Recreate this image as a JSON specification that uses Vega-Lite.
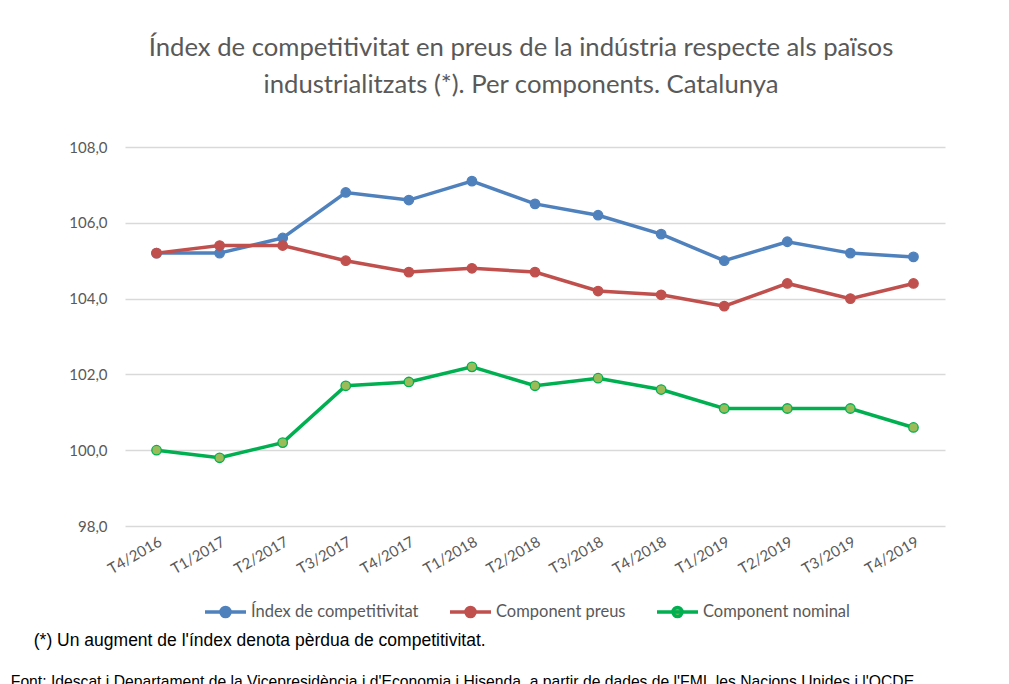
{
  "$schema": "https://vega.github.io/schema/vega-lite/v6.json",
  "background": "white",
  "padding": {"left": 10, "top": 35, "right": 10, "bottom": 0},
  "title": {
    "text": "Font: Idescat i Departament de la Vicepresidència i d'Economia i Hisenda, a partir de dades de l'FMI, les Nacions Unides i l'OCDE.",
    "orient": "bottom",
    "anchor": "start",
    "frame": "bounds",
    "dx": -23,
    "offset": 26,
    "font": "Liberation Sans",
    "fontSize": 15.7,
    "fontWeight": "normal",
    "color": "black"
  },
  "vconcat": [
    {
      "title": {
        "text": "(*) Un augment de l'índex denota pèrdua de competitivitat.",
        "orient": "bottom",
        "anchor": "start",
        "frame": "bounds",
        "dx": -35,
        "offset": 55,
        "font": "Liberation Sans",
        "fontSize": 17.5,
        "fontWeight": "normal",
        "color": "black"
      },
      "vconcat": [
        {
          "width": 820,
          "height": 379,
          "title": {
            "text": ["Índex de competitivitat en preus de la indústria respecte als països", "industrialitzats (*). Per components. Catalunya"],
            "font": "Lato",
            "fontSize": 25.7,
            "fontWeight": "normal",
            "color": "#595959",
            "lineHeight": 37,
            "offset": 41,
            "anchor": "middle",
            "dx": -14
          },
          "data": {
            "values": [
              {"trimestre": "T4/2016", "serie": "Índex de competitivitat", "valor": 105.2},
              {"trimestre": "T1/2017", "serie": "Índex de competitivitat", "valor": 105.2},
              {"trimestre": "T2/2017", "serie": "Índex de competitivitat", "valor": 105.6},
              {"trimestre": "T3/2017", "serie": "Índex de competitivitat", "valor": 106.8},
              {"trimestre": "T4/2017", "serie": "Índex de competitivitat", "valor": 106.6},
              {"trimestre": "T1/2018", "serie": "Índex de competitivitat", "valor": 107.1},
              {"trimestre": "T2/2018", "serie": "Índex de competitivitat", "valor": 106.5},
              {"trimestre": "T3/2018", "serie": "Índex de competitivitat", "valor": 106.2},
              {"trimestre": "T4/2018", "serie": "Índex de competitivitat", "valor": 105.7},
              {"trimestre": "T1/2019", "serie": "Índex de competitivitat", "valor": 105.0},
              {"trimestre": "T2/2019", "serie": "Índex de competitivitat", "valor": 105.5},
              {"trimestre": "T3/2019", "serie": "Índex de competitivitat", "valor": 105.2},
              {"trimestre": "T4/2019", "serie": "Índex de competitivitat", "valor": 105.1},
              {"trimestre": "T4/2016", "serie": "Component preus", "valor": 105.2},
              {"trimestre": "T1/2017", "serie": "Component preus", "valor": 105.4},
              {"trimestre": "T2/2017", "serie": "Component preus", "valor": 105.4},
              {"trimestre": "T3/2017", "serie": "Component preus", "valor": 105.0},
              {"trimestre": "T4/2017", "serie": "Component preus", "valor": 104.7},
              {"trimestre": "T1/2018", "serie": "Component preus", "valor": 104.8},
              {"trimestre": "T2/2018", "serie": "Component preus", "valor": 104.7},
              {"trimestre": "T3/2018", "serie": "Component preus", "valor": 104.2},
              {"trimestre": "T4/2018", "serie": "Component preus", "valor": 104.1},
              {"trimestre": "T1/2019", "serie": "Component preus", "valor": 103.8},
              {"trimestre": "T2/2019", "serie": "Component preus", "valor": 104.4},
              {"trimestre": "T3/2019", "serie": "Component preus", "valor": 104.0},
              {"trimestre": "T4/2019", "serie": "Component preus", "valor": 104.4},
              {"trimestre": "T4/2016", "serie": "Component nominal", "valor": 100.0},
              {"trimestre": "T1/2017", "serie": "Component nominal", "valor": 99.8},
              {"trimestre": "T2/2017", "serie": "Component nominal", "valor": 100.2},
              {"trimestre": "T3/2017", "serie": "Component nominal", "valor": 101.7},
              {"trimestre": "T4/2017", "serie": "Component nominal", "valor": 101.8},
              {"trimestre": "T1/2018", "serie": "Component nominal", "valor": 102.2},
              {"trimestre": "T2/2018", "serie": "Component nominal", "valor": 101.7},
              {"trimestre": "T3/2018", "serie": "Component nominal", "valor": 101.9},
              {"trimestre": "T4/2018", "serie": "Component nominal", "valor": 101.6},
              {"trimestre": "T1/2019", "serie": "Component nominal", "valor": 101.1},
              {"trimestre": "T2/2019", "serie": "Component nominal", "valor": 101.1},
              {"trimestre": "T3/2019", "serie": "Component nominal", "valor": 101.1},
              {"trimestre": "T4/2019", "serie": "Component nominal", "valor": 100.6}
            ]
          },
          "encoding": {
            "x": {
              "field": "trimestre",
              "type": "ordinal",
              "sort": null,
              "scale": {"type": "point", "padding": 0.5},
              "axis": {"title": null, "labelAngle": -30, "labelPadding": 8, "grid": false, "domain": false, "ticks": false}
            },
            "y": {
              "field": "valor",
              "type": "quantitative",
              "scale": {"domain": [98, 108], "zero": false, "nice": false},
              "axis": {
                "title": null,
                "values": [98, 100, 102, 104, 106, 108],
                "format": ".1f",
                "labelExpr": "replace(datum.label, '.', ',')",
                "labelPadding": 18,
                "grid": true,
                "domain": false,
                "ticks": false
              }
            }
          },
          "layer": [
            {
              "mark": {"type": "line", "strokeWidth": 3.5},
              "encoding": {
                "color": {
                  "field": "serie",
                  "type": "nominal",
                  "scale": {
                    "domain": ["Índex de competitivitat", "Component preus", "Component nominal"],
                    "range": ["#4F81BD", "#C0504D", "#00B050"]
                  },
                  "legend": {
                    "title": null,
                    "orient": "none",
                    "legendX": 78,
                    "legendY": 442,
                    "direction": "horizontal",
                    "symbolType": "M-1,0H1M-0.22,0A0.22,0.22,0,1,1,0.22,0A0.22,0.22,0,1,1,-0.22,0Z",
                    "symbolSize": 1681,
                    "symbolStrokeWidth": 3.5,
                    "labelFont": "Lato",
                    "labelFontSize": 16.5,
                    "labelColor": "#595959",
                    "labelOffset": 3,
                    "labelLimit": 400,
                    "columnPadding": 24,
                    "encode": {
                      "symbols": {
                        "update": {
                          "fill": {"signal": "datum.value === 'Component nominal' ? '#9BBB59' : datum.value === 'Component preus' ? '#C0504D' : '#4F81BD'"},
                          "opacity": {"value": 1}
                        }
                      }
                    }
                  }
                }
              }
            },
            {
              "mark": {"type": "point", "filled": true, "size": 90, "strokeWidth": 1.3, "opacity": 1},
              "encoding": {
                "fill": {
                  "field": "serie",
                  "type": "nominal",
                  "scale": {
                    "domain": ["Índex de competitivitat", "Component preus", "Component nominal"],
                    "range": ["#4F81BD", "#C0504D", "#9BBB59"]
                  },
                  "legend": null
                },
                "stroke": {
                  "field": "serie",
                  "type": "nominal",
                  "scale": {
                    "domain": ["Índex de competitivitat", "Component preus", "Component nominal"],
                    "range": ["#4F81BD", "#C0504D", "#00B050"]
                  },
                  "legend": null
                }
              }
            }
          ]
        }
      ]
    }
  ],
  "config": {
    "view": {"stroke": null},
    "axis": {
      "labelFont": "Lato",
      "labelFontSize": 15,
      "labelColor": "#595959",
      "gridColor": "#D9D9D9",
      "gridWidth": 1.5
    }
  }
}
